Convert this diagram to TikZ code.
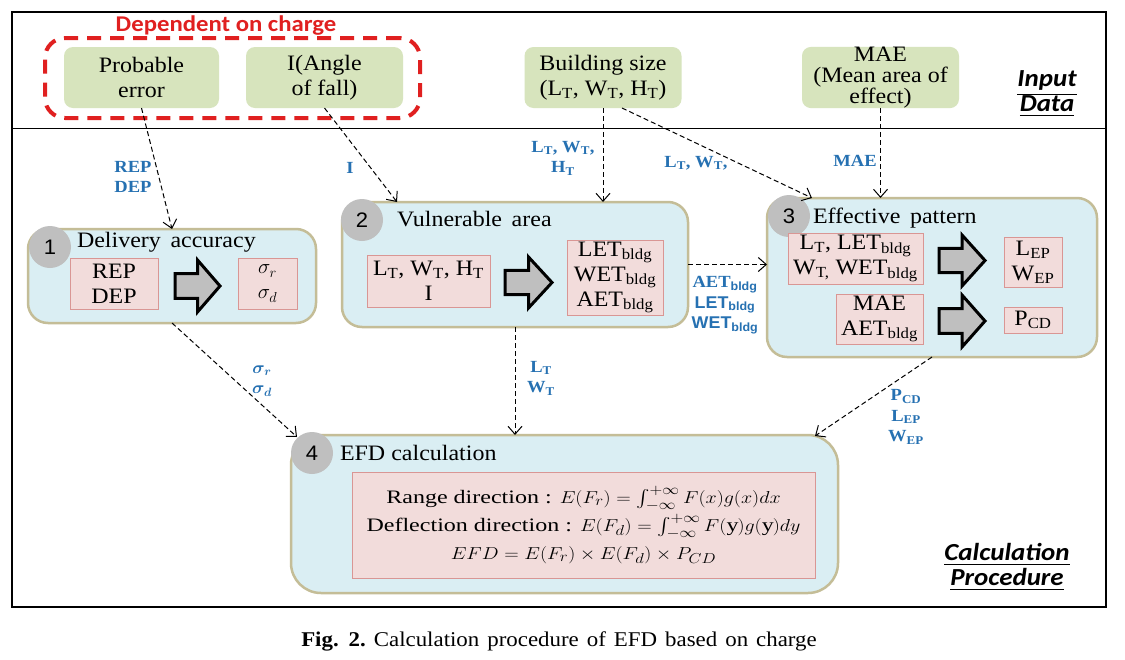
\documentclass[tikz,border=0pt]{standalone}
\usepackage{amsmath}
\usepackage{bm}
\usepackage{fontspec}
\setmainfont{Liberation Serif}[FakeStretch=1.09]
\newfontfamily\arialf{Liberation Sans}[FakeStretch=1.05]
\newfontfamily\calib{Carlito}[FakeStretch=1.1]
\usetikzlibrary{arrows.meta,calc}
\definecolor{boxblue}{RGB}{218,238,243}
\definecolor{boxedge}{RGB}{196,189,151}
\definecolor{pinkfill}{RGB}{242,220,219}
\definecolor{pinkedge}{RGB}{217,150,148}
\definecolor{greenfill}{RGB}{215,228,189}
\definecolor{redd}{RGB}{224,32,32}
\definecolor{lblue}{RGB}{38,113,178}
\definecolor{circgray}{RGB}{191,191,191}
\newcommand\sbs[1]{\textsubscript{#1}}
\newcommand\wide[1]{\scalebox{1.16}[1]{#1}}
\newcommand\blockarrow[4]{%
  \pgfmathsetmacro\baXm{#1+0.5*(#2-#1)}%
  \pgfmathsetmacro\baYa{#3+0.26*(#4-#3)}%
  \pgfmathsetmacro\baYb{#3+0.74*(#4-#3)}%
  \pgfmathsetmacro\baYc{0.5*(#3+#4)}%
  \draw[bigarrow] (#1,\baYa) -- (\baXm,\baYa) -- (\baXm,#3) -- (#2,\baYc) -- (\baXm,#4) -- (\baXm,\baYb) -- (#1,\baYb) -- cycle;}
\tikzset{
  every node/.style={inner sep=0pt, outer sep=0pt},
  greenbox/.style={fill=greenfill, rounded corners=9pt, align=center, font=\fontsize{22}{25}\selectfont},
  stagebox/.style={fill=boxblue, draw=boxedge, line width=2.5pt, rounded corners=20pt},
  pinkbox/.style={fill=pinkfill, draw=pinkedge, line width=0.8pt, align=center, font=\fontsize{22}{25}\selectfont},
  numcirc/.style={circle, fill=circgray, minimum size=42pt, font=\arialf\fontsize{21}{21}\selectfont},
  stitle/.style={anchor=base west, font=\fontsize{22}{25}\selectfont},
  conn/.style={dash pattern=on 5pt off 3pt, line width=1pt, -{Straight Barb[length=8pt,width=14pt,line width=1pt]}},
  lbl/.style={text=lblue, align=center, font=\bfseries\fontsize{17}{20.5}\selectfont},
  bigarrow/.style={fill=circgray, draw=black, line width=3pt, line join=miter},
  side/.style={font=\calib\bfseries\itshape\fontsize{24.5}{25}\selectfont, align=center}
}
\begin{document}
\begin{tikzpicture}[x=1pt,y=-1pt]
\useasboundingbox[fill=white] (0,0) rectangle (1125,659);
% frame
\draw[line width=1.5pt] (12,12) rectangle (1106,607);
\draw[line width=2.5pt] (12,12) -- (1106,12);
\draw[line width=1pt] (12,128) -- (1106,128);
% input group
\node[draw=redd, line width=4pt, dash pattern=on 14pt off 9pt, rounded corners=20pt, minimum width=375pt, minimum height=80pt] (grp) at (232.5,78) {};
\node[text=redd, font=\calib\bfseries\fontsize{22.5}{24}\selectfont] (grptitle) at (226,26) {Dependent on charge};
\node[greenbox, minimum width=155pt, minimum height=61pt] (g1) at (141.5,77.5) {Probable\\error};
\node[greenbox, minimum width=157pt, minimum height=61pt] (g2) at (324.5,77.5) {I(Angle\\of fall)};
\node[greenbox, minimum width=157pt, minimum height=61pt] (g3) at (603,77.5) {Building size\\(L\sbs{T}, W\sbs{T}, H\sbs{T})};
\node[greenbox, minimum width=157pt, minimum height=61pt, font=\fontsize{22}{21}\selectfont] (g4) at (880.5,77.5) {MAE\\(Mean area of\\effect)};
\node[side] (inp) at (1047,94) {\underline{Input}\\\underline{Data}};
% stage boxes
\node[stagebox, minimum width=288pt, minimum height=94pt] (b1) at (172,276) {};
\node[stagebox, minimum width=346pt, minimum height=125pt] (b2) at (515,264.5) {};
\node[stagebox, minimum width=330pt, minimum height=159pt] (b3) at (932,277.5) {};
\node[stagebox, rounded corners=30pt, minimum width=547pt, minimum height=158pt] (b4) at (564.5,514) {};
\node[numcirc] (c1) at (50,247) {1};
\node[numcirc] (c2) at (362,220) {2};
\node[numcirc] (c3) at (789,216) {3};
\node[numcirc] (c4) at (312,453) {4};
\node[stitle] (t1) at (77,247) {Delivery\, accuracy};
\node[stitle] (t2) at (397,226) {Vulnerable\, area};
\node[stitle] (t3) at (813,223) {Effective\, pattern};
\node[stitle] (t4) at (340,460) {EFD calculation};
% inner boxes
\node[pinkbox, minimum width=88pt, minimum height=51pt] (p1a) at (114,283.5) {REP\\DEP};
\node[pinkbox, minimum width=59pt, minimum height=51pt] (p1b) at (267.5,283.5) {$\sigma_r$\\$\sigma_d$};
\node[pinkbox, minimum width=123pt, minimum height=52pt] (p2a) at (428.5,281) {L\sbs{T}, W\sbs{T}, H\sbs{T}\\I};
\node[pinkbox, minimum width=96pt, minimum height=75pt] (p2b) at (615,277.5) {LET\sbs{bldg}\\WET\sbs{bldg}\\AET\sbs{bldg}};
\node[pinkbox, minimum width=135pt, minimum height=51pt] (p3a) at (855.5,258.5) {L\sbs{T}, LET\sbs{bldg}\\W\sbs{T,} WET\sbs{bldg}};
\node[pinkbox, minimum width=58pt, minimum height=50pt] (p3b) at (1033,262) {L\sbs{EP}\\W\sbs{EP}};
\node[pinkbox, minimum width=87pt, minimum height=50pt] (p3c) at (879.5,319) {MAE\\AET\sbs{bldg}};
\node[pinkbox, minimum width=58pt, minimum height=26pt] (p3d) at (1033,320) {P\sbs{CD}};
\node[pinkbox, minimum width=463pt, minimum height=106pt, font=\fontsize{19}{28}\selectfont] (p4) at (583.5,525)
  {\wide{Range direction : $E(F_r)=\int_{-\infty}^{+\infty}F(x)g(x)dx$}\\
   \wide{Deflection direction : $E(F_d)=\int_{-\infty}^{+\infty}F(\mathrm{y})g(\mathrm{y})dy$}\\
   \wide{$EFD=E(F_r)\times E(F_d)\times P_{CD}$}};
% block arrows
\blockarrow{175}{220}{260}{312}
\blockarrow{505}{552}{257}{308}
\blockarrow{939}{985}{235}{286}
\blockarrow{939}{985}{295}{347}
% connectors
\draw[conn] (g1.south) -- (b1.north);
\draw[conn] (g2.south) -- ([xshift=-118pt]b2.north);
\draw[conn] (g3.south) -- (g3.south |- b2.north);
\draw[conn] ([xshift=19pt]g3.south) -- ([xshift=-120pt]b3.north);
\draw[conn] (g4.south) -- (g4.south |- b3.north);
\draw[conn] (b2.east) -- (b2.east -| b3.west);
\draw[conn] (b1.south) -- ([xshift=6pt,yshift=-2pt]b4.north west);
\draw[conn] (b2.south) -- (b2.south |- b4.north);
\draw[conn] (b3.south) -- ([xshift=-23pt,yshift=-1pt]b4.north east);
% connector labels
\node[lbl] (l1) at (133,177) {REP\\DEP};
\node[lbl] (l2) at (350,168) {I};
\node[lbl] (l3) at (563,158) {L\sbs{T}, W\sbs{T},\\H\sbs{T}};
\node[lbl] (l4) at (696,163) {L\sbs{T}, W\sbs{T},};
\node[lbl] (l5) at (855,161) {MAE};
\node[lbl] (l6) at (725,305) {AET{\arialf\sbs{bldg}}\\{\arialf LET\sbs{bldg}}\\{\arialf WET\sbs{bldg}}};
\node[lbl] (l7) at (262,381) {$\bm{\sigma_r}$\\$\bm{\sigma_d}$};
\node[lbl] (l8) at (541,378) {L\sbs{T}\\W\sbs{T}};
\node[lbl] (l9) at (906,417) {P\sbs{CD}\\L\sbs{EP}\\W\sbs{EP}};
\node[side] (calc) at (1007,567) {\underline{Calculation}\\\underline{Procedure}};
% caption
\node[font=\fontsize{21}{24}\selectfont] (cap) at (559,641) {\spaceskip=8pt\textbf{Fig. 2.}\ Calculation procedure of EFD based on charge};
\end{tikzpicture}
\end{document}
